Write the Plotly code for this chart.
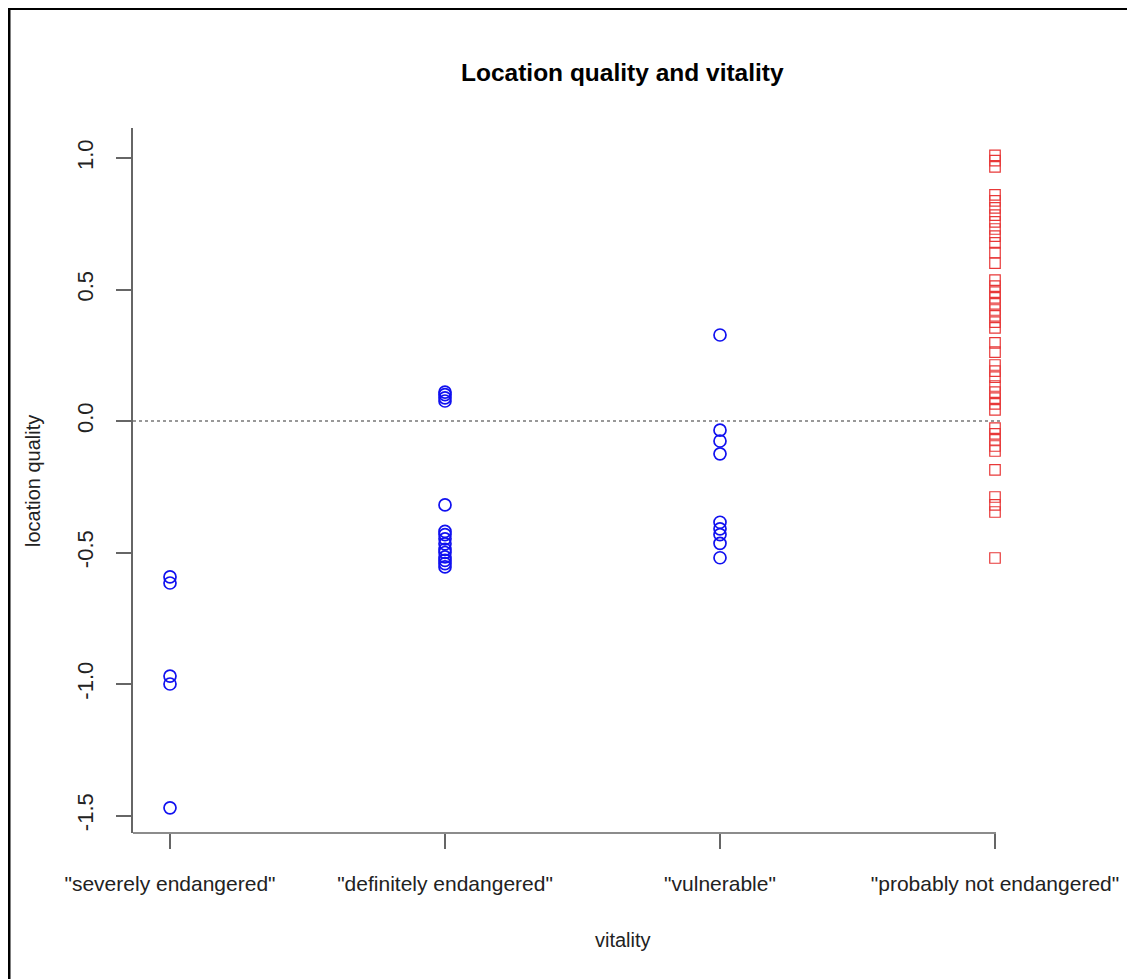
import plotly.graph_objects as go

categories = ['"severely endangered"', '"definitely endangered"', '"vulnerable"', '"probably not endangered"']

severely = [-0.593, -0.616, -0.970, -1.000, -1.471]
definitely = [0.110, 0.100, 0.088, 0.076, -0.319,
              -0.420, -0.432, -0.448, -0.467, -0.488, -0.500, -0.517, -0.530, -0.542, -0.555]
vulnerable = [0.327, -0.035, -0.076, -0.125, -0.385, -0.410, -0.432, -0.465, -0.520]
probably_not = [1.010, 0.990, 0.966, 0.860, 0.837, 0.810, 0.783, 0.757, 0.730, 0.703, 0.677,
                0.640, 0.600, 0.536, 0.513, 0.490, 0.468, 0.445, 0.422, 0.400, 0.376, 0.354,
                0.297, 0.262, 0.213, 0.190, 0.167, 0.133, 0.110, 0.087, 0.065, 0.042,
                -0.027, -0.049, -0.072, -0.095, -0.114, -0.186, -0.289, -0.319, -0.346, -0.521]

y_ticks = [-1.5, -1.0, -0.5, 0.0, 0.5, 1.0]

W, H = 1135, 979
OFF = 8                      # page body margin
L, R, T, B = 133 - OFF, 1111 - OFF, 128 - OFF, 833 - OFF   # plot area in figure pixels


def px(xs):
    """screen x pixel -> paper"""
    return (xs - OFF - L) / (R - L)


def py(ys):
    """screen y pixel -> paper"""
    return (B - (ys - OFF)) / (B - T)


fig = go.Figure()

blue_groups = [severely, definitely, vulnerable]
for i, vals in enumerate(blue_groups):
    fig.add_trace(go.Scatter(
        x=[i] * len(vals), y=vals, mode="markers",
        marker=dict(symbol="circle-open", size=12, color="#1010F0", line=dict(width=1.7)),
        showlegend=False, cliponaxis=False))

fig.add_trace(go.Scatter(
    x=[3] * len(probably_not), y=probably_not, mode="markers",
    marker=dict(symbol="square-open", size=10.5, color="#E83838", line=dict(width=1.2)),
    showlegend=False, cliponaxis=False))

# dashed zero line
fig.add_shape(type="line", xref="paper", yref="y", x0=0, x1=px(1000), y0=0, y1=0,
              line=dict(color="#333333", width=1.1, dash="3px,3px"))
# x axis line (from y axis to last category)
fig.add_shape(type="line", xref="paper", yref="paper", x0=0, x1=px(996), y0=0, y1=0,
              line=dict(color="#666666", width=1.5))
# outer frame (top and left)
fig.add_shape(type="line", xref="paper", yref="paper", x0=px(7), x1=px(1145), y0=py(8.6), y1=py(8.6),
              line=dict(color="black", width=2.6))
fig.add_shape(type="line", xref="paper", yref="paper", x0=px(9.2), x1=px(9.2), y0=py(7.5), y1=py(995),
              line=dict(color="black", width=2.6))

fig.add_annotation(text="<b>Location quality and vitality</b>", xref="paper", yref="paper",
                   x=px(622), y=py(72), showarrow=False, xanchor="center", yanchor="middle",
                   font=dict(family="Liberation Sans, Arial", size=24.5, color="black"))
fig.add_annotation(text="vitality", xref="paper", yref="paper",
                   x=px(623), y=py(940), showarrow=False, xanchor="center", yanchor="middle",
                   font=dict(family="Liberation Sans, Arial", size=20, color="#222222"))
fig.add_annotation(text="location quality", xref="paper", yref="paper", textangle=-90,
                   x=px(33), y=py(481), showarrow=False, xanchor="center", yanchor="middle",
                   font=dict(family="Liberation Sans, Arial", size=20, color="#222222"))

x_lo = -(170 - 133) / 275.0
x_hi = 3 + (1111 - 995) / 275.0
y_hi = (421 - 128) / 263.0
y_lo = -(833 - 421) / 263.0

fig.update_layout(
    width=W, height=H,
    margin=dict(l=L, r=W - R, t=T, b=H - B, pad=0),
    paper_bgcolor="white", plot_bgcolor="white",
    font=dict(family="Liberation Sans, Arial", color="#222222"),
    xaxis=dict(range=[x_lo, x_hi], tickmode="array", tickvals=[0, 1, 2, 3], ticktext=categories,
               showgrid=False, zeroline=False, showline=False, ticks="outside", ticklen=15,
               tickwidth=1.5, tickcolor="#666666", tickfont=dict(size=21, color="#222222"),
               ticklabelstandoff=17),
    yaxis=dict(range=[y_lo, y_hi], tickmode="array", tickvals=y_ticks,
               ticktext=[f"{v:.1f}" for v in y_ticks],
               showgrid=False, zeroline=False, showline=True, linecolor="#666666", linewidth=1.5,
               ticks="outside", ticklen=15, tickwidth=1.5, tickcolor="#666666",
               tickangle=-90, tickfont=dict(size=22, color="#222222"), ticklabelstandoff=14),
)

fig.write_html("out.html")
